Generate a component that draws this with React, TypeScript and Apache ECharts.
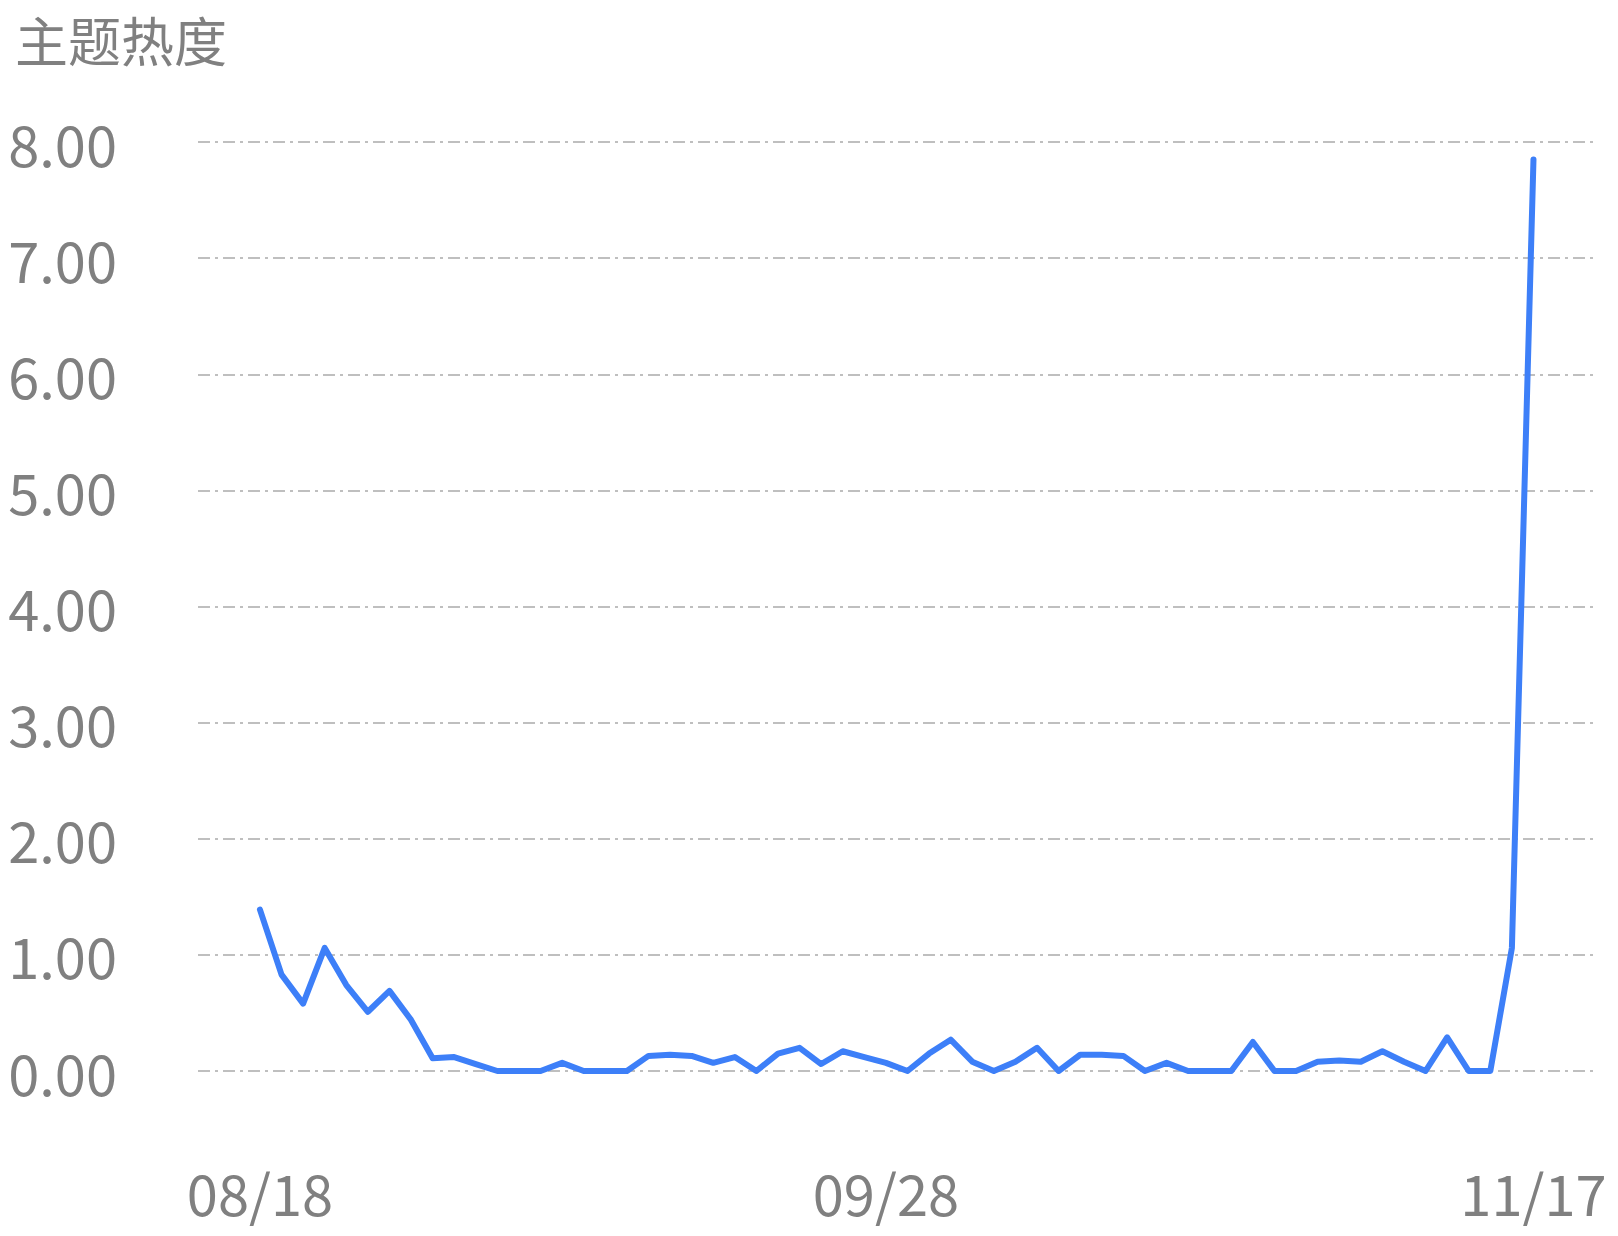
import { useEffect, useRef } from "react";
import * as echarts from "echarts";

const heat = [
  1.39, 0.83, 0.58, 1.06, 0.74, 0.51, 0.69, 0.44, 0.11, 0.12,
  0.06, 0, 0, 0, 0.07, 0, 0, 0, 0.13, 0.14,
  0.13, 0.07, 0.12, 0, 0.15, 0.2, 0.06, 0.17, 0.12, 0.07,
  0, 0.15, 0.27, 0.08, 0, 0.08, 0.2, 0, 0.14, 0.14,
  0.13, 0, 0.07, 0, 0, 0, 0.25, 0, 0, 0.08,
  0.09, 0.08, 0.17, 0.08, 0, 0.29, 0, 0, 1.06, 7.85,
];
const dateTickIndex = [0, 29, 59];
const dateTickLabels = ["08/18", "09/28", "11/17"];

const grey = "#808080";
const font = "'Noto Sans CJK SC', 'Noto Sans', sans-serif";

export default function App() {
  const ref = useRef<HTMLDivElement>(null);
  useEffect(() => {
    if (!ref.current) return;
    const chart = echarts.init(ref.current, undefined, { renderer: "svg" });
    chart.setOption({
      animation: false,
      backgroundColor: "#ffffff",
      graphic: [
        {
          type: "text",
          left: 15,
          top: 12,
          style: {
            text: "主题热度",
            fill: grey,
            fontSize: 53,
            fontFamily: font,
          },
        },
      ],
      grid: { left: 198, right: 23, top: 142, bottom: 165 },
      xAxis: {
        type: "value",
        min: -2.87,
        max: 61.85,
        axisLine: { show: false },
        axisTick: { show: false },
        splitLine: { show: false },
        axisLabel: {
          customValues: dateTickIndex,
          formatter: (v: number) => dateTickLabels[dateTickIndex.indexOf(Math.round(v))] ?? "",
          color: grey,
          fontSize: 56,
          fontFamily: font,
          margin: 92,
        },
      },
      yAxis: {
        type: "value",
        min: 0,
        max: 8,
        interval: 1,
        axisLine: { show: false },
        axisTick: { show: false },
        axisLabel: {
          formatter: (v: number) => v.toFixed(2),
          color: grey,
          fontSize: 56,
          fontFamily: font,
          margin: 81,
        },
        splitLine: {
          lineStyle: { color: "#bfbfbf", width: 2, type: [12, 5, 3, 5] },
        },
      },
      series: [
        {
          type: "line",
          data: heat.map((v, i) => [i, v]),
          showSymbol: false,
          symbol: "none",
          lineStyle: { color: "#3d7ff8", width: 6, cap: "round", join: "round" },
          itemStyle: { color: "#3d7ff8" },
        },
      ],
    });
    return () => chart.dispose();
  }, []);
  return (
    <div
      ref={ref}
      style={{ position: "fixed", left: 0, top: 0, width: 1618, height: 1236 }}
    />
  );
}
